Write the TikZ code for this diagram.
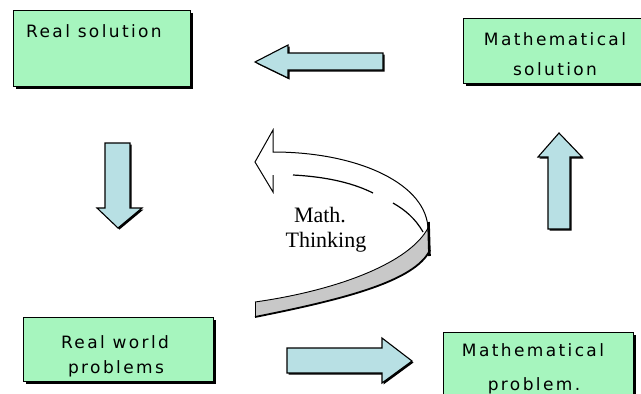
\documentclass[tikz,border=0pt]{standalone}
\usepackage{fontspec}
\newfontfamily\boxfont[LetterSpace=14]{DejaVu Sans}
\newfontfamily\thinkfont{Liberation Serif}
\usetikzlibrary{shadows}
\definecolor{boxgreen}{RGB}{166,245,190}
\definecolor{arrowblue}{RGB}{184,224,228}
\definecolor{ribbongray}{RGB}{200,200,200}
\begin{document}
\begin{tikzpicture}[x=1pt,y=-1pt,
  box/.style={draw=black, line width=0.8pt, fill=boxgreen, inner sep=0pt,
    drop shadow={shadow xshift=2.5pt, shadow yshift=-2.5pt, fill=black, opacity=1}},
  boxtext/.style={font=\boxfont\fontsize{17}{20}\selectfont, inner sep=0pt, anchor=base},
  thinktext/.style={font=\thinkfont\fontsize{22}{25}\selectfont, inner sep=0pt, anchor=base},
  blockarrow/.style={fill=arrowblue, draw=black, line width=1.1pt, line join=miter,
    drop shadow={shadow xshift=1.5pt, shadow yshift=-1.5pt, fill=black, opacity=1}},
  edge/.style={draw=black, line width=1pt}]
\useasboundingbox (0,0) rectangle (641,394);

% boxes
\node[box, minimum width=177pt, minimum height=76pt] (rs) at (101.5,48) {};
\node[box, minimum width=184pt, minimum height=65pt] (ms) at (555,50.5) {};
\node[box, minimum width=190pt, minimum height=64pt] (rw) at (118,349) {};
\node[box, minimum width=190pt, minimum height=74pt] (mp) at (538,369) {};

% box texts
\node[boxtext, anchor=base west] (rstext) at (26,37) {Real solution};
\node[boxtext] (ms1) at (555,45) {Mathematical};
\node[boxtext] (ms2) at (555,75) {solution};
\node[boxtext] (rw1) at (115,348) {Real world};
\node[boxtext] (rw2) at (116,373) {problems};
\node[boxtext] (mp1) at (533,356) {Mathematical};
\node[boxtext] (mp2) at (534,390) {problem.};

% straight block arrows
\path[blockarrow] (383,53) -- (288,53) -- (288,45) -- (255,62) -- (288,78) -- (288,70) -- (383,70) -- cycle;
\path[blockarrow] (287,348) -- (382,348) -- (382,338) -- (412,361) -- (382,383) -- (382,373) -- (287,373) -- cycle;
\path[blockarrow] (105,143) -- (130,143) -- (130,208) -- (142,208) -- (118,228) -- (97,208) -- (105,208) -- cycle;
\path[blockarrow] (548,229) -- (548,157) -- (538,157) -- (559,133) -- (582,157) -- (570,157) -- (570,229) -- cycle;

% curved U-turn arrow
\fill[ribbongray] (255,302) .. controls (340,290) and (410,262) .. (428,228)
  -- (430,250) .. controls (415,282) and (340,300) .. (255,317) -- cycle;
\draw[edge, line width=0.9pt] (255,302) .. controls (340,290) and (410,262) .. (428,228);
\draw[edge, line width=1.8pt] (430,250) .. controls (415,282) and (340,300) .. (255,317);
\draw[edge] (255,302) -- (255,317);
\draw[edge, line width=2.6pt] (428.5,222) -- (429.5,256);
\draw[edge, line join=miter] (273,175) -- (273,192) -- (255,162) -- (273,130) -- (273,152)
  .. controls (360,152) and (428,185) .. (428,230);
\draw[edge, line width=1.2pt] (293,175) .. controls (330,177) and (355,184) .. (373,193);
\draw[edge, line width=1.2pt] (393,203) .. controls (405,210) and (415,218) .. (423,232);

\node[thinktext] (mt1) at (320,222) {Math.};
\node[thinktext] (mt2) at (326,247) {Thinking};
\end{tikzpicture}
\end{document}
